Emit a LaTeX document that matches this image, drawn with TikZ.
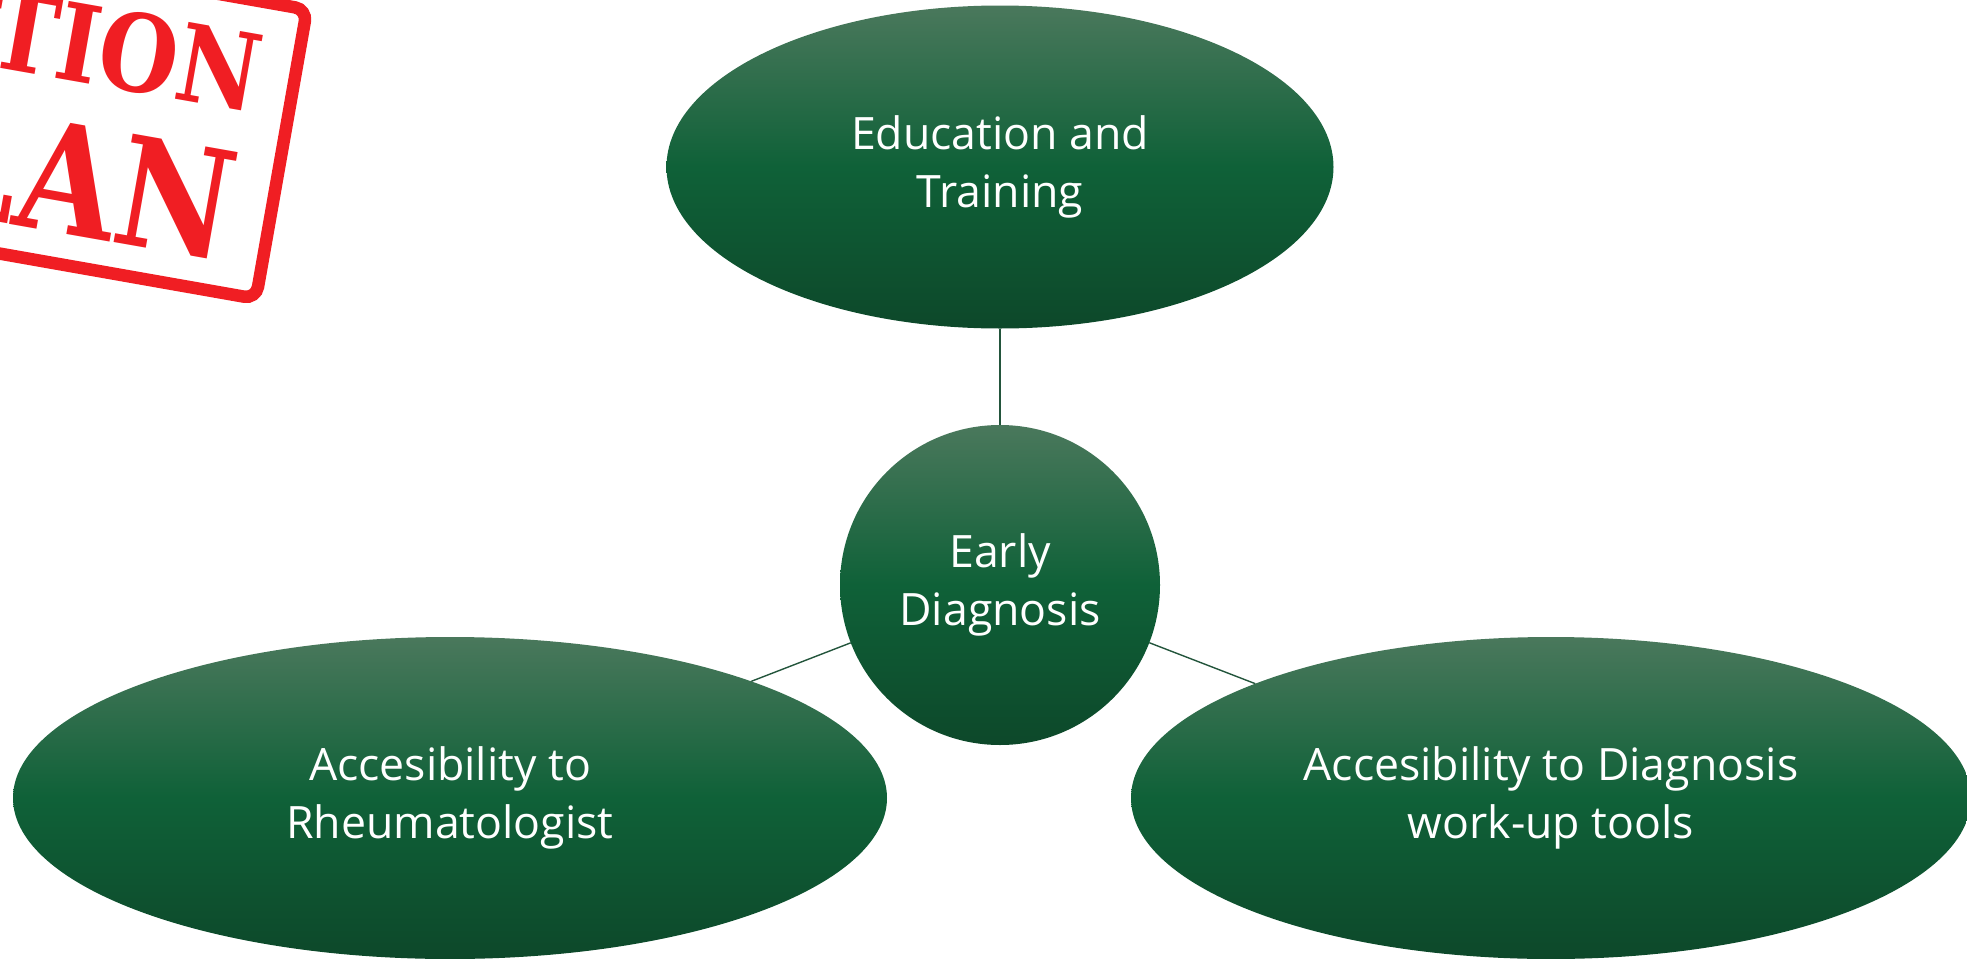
\documentclass[tikz,border=0pt]{standalone}
\usepackage{fontspec}
\setmainfont{Open Sans}
\newfontfamily\stampfont{DejaVu Serif}
\usetikzlibrary{shapes.geometric}

\definecolor{gtop}{RGB}{74,120,92}
\definecolor{gmid}{RGB}{15,97,56}
\definecolor{gbot}{RGB}{13,72,42}
\definecolor{linkgreen}{RGB}{35,85,60}
\definecolor{stampred}{RGB}{240,30,35}

\begin{document}
\begin{tikzpicture}[x=0.5pt,y=-0.5pt,
  bubble/.style={ellipse, inner sep=0pt, outer sep=0pt,
    top color=gtop, bottom color=gbot, middle color=gmid,
    text=white, align=center, font=\fontsize{22.3}{29}\selectfont},
  link/.style={draw=linkgreen, line width=0.7pt},
  stamptext/.style={transform shape, inner sep=0pt, text=stampred, anchor=base east}]
\useasboundingbox (0,0) rectangle (1967,959);

% rubber stamp in the corner
\begin{scope}
  \clip (0,0) rectangle (1967,959);
  \begin{scope}[shift={(261,306)}, rotate=-10]
    \draw[stampred, line width=6.25pt, rounded corners=6pt] (-720,-300) rectangle (-6.25,-6.25);
    \node[stamptext, xscale=0.85, font=\stampfont\bfseries\fontsize{53.5}{53.5}\selectfont] (act) at (-41,-189) {ACTION};
    \node[stamptext, xscale=0.85, font=\stampfont\bfseries\fontsize{75.5}{75.5}\selectfont] (plan) at (-44,-37) {PLAN};
  \end{scope}
\end{scope}

% bubbles
\node[bubble, minimum width=333.5pt, minimum height=161.5pt] (edu) at (1000,167) {Education and\\Training};
\node[bubble, minimum width=160pt, minimum height=160pt] (early) at (1000,585) {Early\\Diagnosis};
\node[bubble, minimum width=437pt, minimum height=161pt] (rheum) at (450,798) {Accesibility to\\Rheumatologist};
\node[bubble, minimum width=420pt, minimum height=161pt] (tools) at (1551,798) {Accesibility to Diagnosis\\work-up tools};

% connectors
\draw[link] (edu) -- (early);
\draw[link] (early) -- (rheum);
\draw[link] (early) -- (tools);
\end{tikzpicture}
\end{document}
